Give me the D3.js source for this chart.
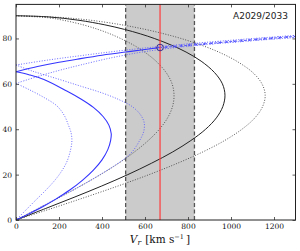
<!DOCTYPE html>
<html lang="en">
<head>
<meta charset="UTF-8">
<title>A2029/2033</title>
<script src="https://cdnjs.cloudflare.com/ajax/libs/d3/7.8.5/d3.min.js"></script>
<style>
  body { margin: 0; background: #fff; }
  svg { display: block; }
</style>
</head>
<body>
<svg width="300" height="251"></svg>
<script>
// values: [V_r (km/s), angle (deg)]
const blackSolid = [[0,90],[150,89.5],[293,88],[413,86],[504,84],[579,82],[643,80],[724,77],[791,74],[861,70],[923,65],[960,60],[972,55],[962,50],[932,45],[882,40],[813,35],[729,30],[630,25],[520,20],[399,15],[270,10],[136,5],[0,0]];
const blackDotInner = [[0,90],[150,89.1],[221,88],[312,86],[381,84],[438,82],[486,80],[548,77],[598,74],[651,70],[698,65],[726,60],[735,55],[728,50],[705,45],[667,40],[615,35],[551,30],[477,25],[393,20],[301,15],[204,10],[103,5],[0,0]];
const blackDotOuter = [[0,90],[200,89.3],[349,88],[492,86],[601,84],[690,82],[767,80],[863,77],[943,74],[1026,70],[1101,65],[1144,60],[1159,55],[1147,50],[1111,45],[1051,40],[970,35],[869,30],[751,25],[619,20],[475,15],[322,10],[163,5],[0,0]];

const blueSolidLoop = [[0,65.3],[60,64],[130,61.9],[236,56.8],[300,53.4],[360,49.6],[405,45.6],[432,41.8],[443,38],[440,35],[427,31],[400,26.5],[360,22],[310,17.6],[250,13.2],[185,9.2],[120,5.6],[60,2.7],[0,0]];
const blueDotInnerLoop = [[0,60.2],[60,57.5],[130,54],[190,50.3],[225,46],[243,42],[256,38.5],[260,35],[254,31],[238,26],[212,21.5],[178,17.2],[135,12.8],[90,8.6],[45,4.3],[0,0]];
const blueDotOuterLoop = [[0,68.3],[80,65.5],[200,62],[300,59],[400,56],[480,53],[540,50],[578,46.5],[596,43],[594,39],[575,35],[540,30],[505,27],[456,23.8],[400,20.5],[300,15],[200,10],[100,5],[0,0]];

const blueSolidUp = [[0,65.3],[100,67.6],[200,69.5],[300,71.1],[400,72.6],[500,73.9],[600,75.1],[670,76]];
const blueDotUpper = [[0,68.3],[150,70.5],[300,72.4],[450,74.2],[600,75.8],[800,77.6],[1000,79.2],[1150,80.3],[1300,81.3]];
const blueDotLower = [[0,60.2],[100,63.2],[200,65.9],[300,68.3],[450,71.6],[600,74.2],[800,76.6],[1000,78.3],[1150,79.4],[1300,80.4]];
const blueCrossLine = [[620,75.5],[800,77],[1000,78.6],[1150,79.8],[1300,80.9]];
const crossMarkV = [700,735,770,805,840,875,910,945,980,1015,1050,1085,1120,1155,1190,1225,1260,1295];

const band = [510, 830];
const redV = 670;
const circlePt = [670, 76];

const xTicks = [0, 200, 400, 600, 800, 1000, 1200];
const yTicks = [0, 20, 40, 60, 80];
const title = "A2029/2033";

const svg = d3.select("svg");
const x = d3.scaleLinear().domain([0, 1300]).range([16, 295.5]);
const y = d3.scaleLinear().domain([0, 95]).range([220, 4.4]);

svg.append("clipPath").attr("id", "plot")
    .append("rect").attr("x", 16).attr("y", 4.4).attr("width", 279.5).attr("height", 215.6);

const g = svg.append("g").attr("clip-path", "url(#plot)");

// shaded band + dashed borders
g.append("rect")
    .attr("x", x(band[0])).attr("y", y(95))
    .attr("width", x(band[1]) - x(band[0])).attr("height", y(0) - y(95))
    .attr("fill", "#cbcbcb");
band.forEach(v => {
    g.append("line")
        .attr("x1", x(v)).attr("x2", x(v)).attr("y1", y(0)).attr("y2", y(95))
        .attr("stroke", "#555").attr("stroke-width", 1.3).attr("stroke-dasharray", "4,2.5");
});

const line = d3.line().x(d => x(d[0])).y(d => y(d[1])).curve(d3.curveCatmullRom.alpha(0.5));

function draw(data, color, width, dash) {
    g.append("path").datum(data)
        .attr("d", line)
        .attr("fill", "none")
        .attr("stroke", color)
        .attr("stroke-width", width)
        .attr("stroke-dasharray", dash);
}

draw(blackDotInner, "#444", 0.9, "1,1.6");
draw(blackDotOuter, "#444", 0.9, "1,1.6");
draw(blackSolid, "#222", 1, null);

draw(blueDotInnerLoop, "#5a5aff", 0.9, "1,1.6");
draw(blueDotOuterLoop, "#5a5aff", 0.9, "1,1.6");
draw(blueDotUpper, "#5a5aff", 0.9, "1,1.6");
draw(blueDotLower, "#5a5aff", 0.9, "1,1.6");
draw(blueSolidLoop, "#3535ff", 1.1, null);
draw(blueSolidUp, "#3535ff", 1.1, null);
draw(blueCrossLine, "#4a4aff", 0.9, "3,2");

// x markers along the dashed line
const crossY = d3.scaleLinear().domain(blueCrossLine.map(d => d[0])).range(blueCrossLine.map(d => d[1]));
g.selectAll("path.mk").data(crossMarkV).enter().append("path")
    .attr("class", "mk")
    .attr("d", v => {
        const cx = x(v), cy = y(crossY(v)), s = 1.3;
        return `M${cx - s},${cy - s}L${cx + s},${cy + s}M${cx - s},${cy + s}L${cx + s},${cy - s}`;
    })
    .attr("stroke", "#4a4aff").attr("stroke-width", 0.8);

// red line
g.append("line")
    .attr("x1", x(redV)).attr("x2", x(redV)).attr("y1", y(0)).attr("y2", y(95))
    .attr("stroke", "#ff3b3b").attr("stroke-width", 1.2);

g.append("circle")
    .attr("cx", x(circlePt[0])).attr("cy", y(circlePt[1])).attr("r", 3.3)
    .attr("fill", "none").attr("stroke", "#3a2a8c").attr("stroke-width", 1);

// axes (ticks inside on all four sides)
const axisFont = "DejaVu Serif";
const axBottom = svg.append("g").attr("transform", `translate(0,${y(0)})`)
    .call(d3.axisBottom(x).tickValues(xTicks).tickSize(-3).tickPadding(4).tickFormat(d3.format("d")));
const axTop = svg.append("g").attr("transform", `translate(0,${y(95)})`)
    .call(d3.axisTop(x).tickValues(xTicks).tickSize(-3).tickFormat(""));
const axLeft = svg.append("g").attr("transform", `translate(${x(0)},0)`)
    .call(d3.axisLeft(y).tickValues(yTicks).tickSize(-3).tickPadding(4).tickFormat(d3.format("d")));
const axRight = svg.append("g").attr("transform", `translate(${x(1300)},0)`)
    .call(d3.axisRight(y).tickValues(yTicks).tickSize(-3).tickFormat(""));

[axBottom, axTop, axLeft, axRight].forEach(a => {
    a.select(".domain").remove();
    a.selectAll(".tick line").attr("stroke", "#333").attr("stroke-width", 0.8);
    a.selectAll("text").attr("font-family", axisFont).attr("font-size", 7.5).attr("fill", "#111");
});

svg.append("rect")
    .attr("x", x(0)).attr("y", y(95)).attr("width", x(1300) - x(0)).attr("height", y(0) - y(95))
    .attr("fill", "none").attr("stroke", "#222").attr("stroke-width", 1);

// labels
svg.append("text")
    .attr("x", 288).attr("y", 18.5).attr("text-anchor", "end")
    .attr("font-family", "DejaVu Sans").attr("font-size", 9).attr("fill", "#222")
    .text(title);

const xl = svg.append("text")
    .attr("x", 160).attr("y", 243).attr("text-anchor", "middle")
    .attr("font-family", axisFont).attr("font-size", 10.5).attr("fill", "#111");
xl.append("tspan").attr("font-style", "italic").text("V");
xl.append("tspan").attr("font-style", "italic").attr("font-size", 7.5).attr("dy", 2).text("r");
xl.append("tspan").attr("dy", -2).text("\u2009\u2009[km s");
xl.append("tspan").attr("font-size", 6.5).attr("dy", -4).text("\u22121");
xl.append("tspan").attr("dy", 4).text("\u2009]");
</script>
</body>
</html>
